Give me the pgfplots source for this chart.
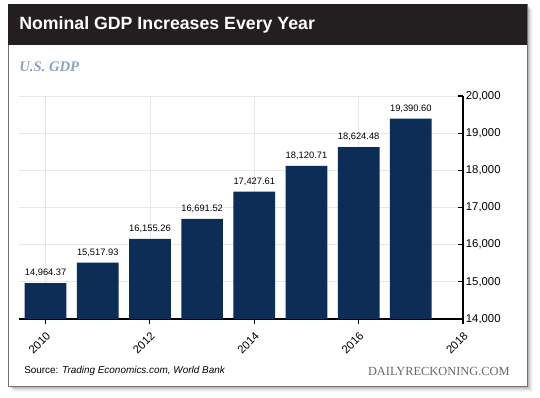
\documentclass[border=0pt]{standalone}
\usepackage{pgfplots}
\pgfplotsset{compat=1.18}
\usepackage{fontspec}
\setmainfont{Liberation Sans}
\newfontfamily\seriffont{Liberation Serif}
\definecolor{navy}{RGB}{12,46,86}
\definecolor{hdr}{RGB}{35,31,32}
\definecolor{subt}{RGB}{139,165,189}
\definecolor{gridc}{RGB}{230,230,230}
\definecolor{foot}{RGB}{105,105,105}
\begin{document}
\begin{tikzpicture}
\begin{scope}[x=0.75pt,y=-0.75pt]
\path[use as bounding box, fill=white] (0,0) rectangle (540,397);
\foreach \i/\o in {1/0.12,2/0.10,3/0.08,4/0.06,5/0.04,6/0.03}{
  \fill[black,opacity=\o] (8+\i,4+\i) rectangle (527+\i,386+\i);
}
\fill[white] (8,4) rectangle (527,386);
\draw[black!55, line width=0.5pt] (8,4) rectangle (527,386);
\fill[hdr] (8,4) rectangle (527,45);
\node[anchor=west, text=white, inner sep=0pt, font=\fontsize{13.3}{15}\selectfont\bfseries] at (19,25) {Nominal GDP Increases Every Year};
\node[anchor=west, text=subt, inner sep=0pt, font=\seriffont\fontsize{11}{13}\selectfont\bfseries\itshape] at (19,67) {U.S. GDP};
\node[anchor=west, inner sep=0pt, font=\fontsize{7.45}{9}\selectfont] at (24,371) {Source: \textit{Trading Economics.com, World Bank}};
\node[anchor=east, inner sep=0pt, text=foot, font=\seriffont\fontsize{9.3}{10}\selectfont] at (510,371) {DAILYRECKONING.COM};
\end{scope}
\begin{axis}[
  scale only axis, width=333pt, height=167.25pt,
  at={(14.25pt,-239.25pt)}, anchor=south west,
  xmin=2009.49, xmax=2018, ymin=14000, ymax=20000,
  axis x line*=bottom, axis y line*=right,
  xtick={2010,2012,2014,2016,2018},
  ytick={14000,15000,16000,17000,18000,19000,20000},
  scaled x ticks=false, scaled y ticks=false,
  grid=major, major grid style={gridc, line width=0.6pt},
  axis line style={black, line width=0.9pt},
  x tick style={black, line width=0.8pt},
  y tick style={black, line width=0.8pt},
  major tick length=3.5pt,
  xtick align=outside, ytick align=inside,
  /pgf/number format/assume math mode=true,
  xticklabel shift=4pt,
  x tick label style={rotate=45, anchor=north east, inner sep=1pt, font=\fontsize{8.5}{10}\selectfont, /pgf/number format/1000 sep={}},
  y tick label style={anchor=west, inner sep=2pt, font=\fontsize{8.5}{10}\selectfont, /pgf/number format/1000 sep={,}},
  ybar, bar width=0.8,
  nodes near coords, point meta=explicit symbolic,
  every node near coord/.append style={font=\fontsize{7}{8}\selectfont, black, yshift=1pt},
]
\addplot[fill=navy, draw=none] table[x=x, y=y, meta=label] {
x y label
2010 14964.37 14,964.37
2011 15517.93 15,517.93
2012 16155.26 16,155.26
2013 16691.52 16,691.52
2014 17427.61 17,427.61
2015 18120.71 18,120.71
2016 18624.48 18,624.48
2017 19390.60 19,390.60
};
\end{axis}
\end{tikzpicture}
\end{document}
